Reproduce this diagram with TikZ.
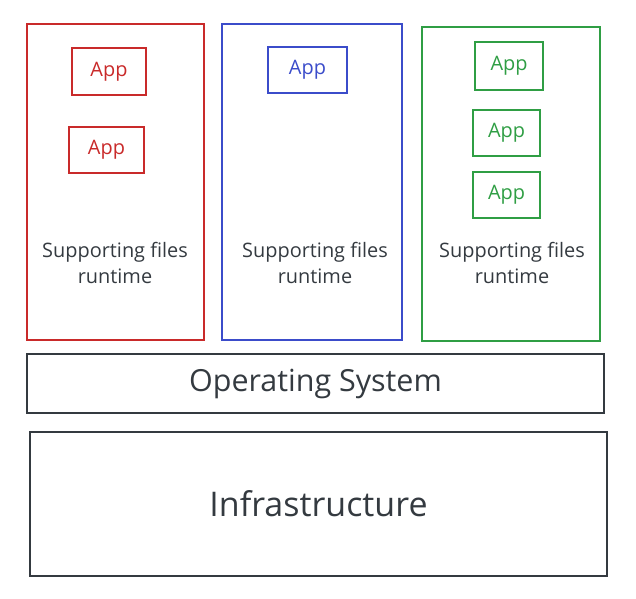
\documentclass[tikz,border=0pt]{standalone}
\usepackage{fontspec}
\setmainfont{Open Sans}
\usetikzlibrary{positioning}

\definecolor{sketchred}{HTML}{C92A2A}
\definecolor{sketchblue}{HTML}{3B4CCA}
\definecolor{sketchgreen}{HTML}{2F9E44}
\definecolor{sketchink}{HTML}{343A40}

\begin{document}
\begin{tikzpicture}
        \tikzstyle{every node}=[inner sep=0pt,line width=1.1pt]
        \tikzstyle{container}=[draw,rectangle,minimum width=5.31cm,minimum height=9.48cm]
        \tikzstyle{app}=[draw,rectangle,font=\fontsize{17}{20}\selectfont]
        \tikzstyle{support}=[align=center,text=sketchink,font=\fontsize{17}{22}\selectfont]
        \tikzstyle{layer}=[draw=sketchink,rectangle,minimum width=17.31cm,text=sketchink,font=\fontsize{26}{30}\selectfont]
        \useasboundingbox (0,0) rectangle (19.08,-17.94);

        % red container
        \node[container,draw=sketchred] (redbox) at (3.465,-5.46) {};
        \node[app,draw=sketchred,text=sketchred,minimum width=2.22cm,minimum height=1.41cm] (redapp1) at (3.27,-2.145) {App};
        \node[app,draw=sketchred,text=sketchred,minimum width=2.25cm,minimum height=1.38cm] (redapp2) at (3.195,-4.5) {App};
        \node[support] (redfiles) at (3.45,-7.89) {Supporting files\\runtime};

        % blue container
        \node[container,draw=sketchblue,minimum width=5.4cm] (bluebox) at (9.36,-5.46) {};
        \node[app,draw=sketchblue,text=sketchblue,minimum width=2.37cm,minimum height=1.38cm] (blueapp) at (9.225,-2.1) {App};
        \node[support] (bluefiles) at (9.45,-7.89) {Supporting files\\runtime};

        % green container
        \node[container,draw=sketchgreen,minimum width=5.34cm,minimum height=9.42cm] (greenbox) at (15.33,-5.52) {};
        \node[app,draw=sketchgreen,text=sketchgreen,minimum width=2.04cm,minimum height=1.44cm] (greenapp1) at (15.27,-1.98) {App};
        \node[app,draw=sketchgreen,text=sketchgreen,minimum width=2.01cm,minimum height=1.38cm] (greenapp2) at (15.195,-3.99) {App};
        \node[app,draw=sketchgreen,text=sketchgreen,minimum width=2.01cm,minimum height=1.38cm] (greenapp3) at (15.195,-5.85) {App};
        \node[support] (greenfiles) at (15.36,-7.89) {Supporting files\\runtime};

        % operating system and infrastructure
        \node[layer,minimum height=1.77cm] (os) at (9.465,-11.505) {Operating System};
        \node[layer,minimum height=4.32cm,font=\fontsize{29}{34}\selectfont] (infra) at (9.555,-15.12) {Infrastructure};

\end{tikzpicture}
\end{document}
